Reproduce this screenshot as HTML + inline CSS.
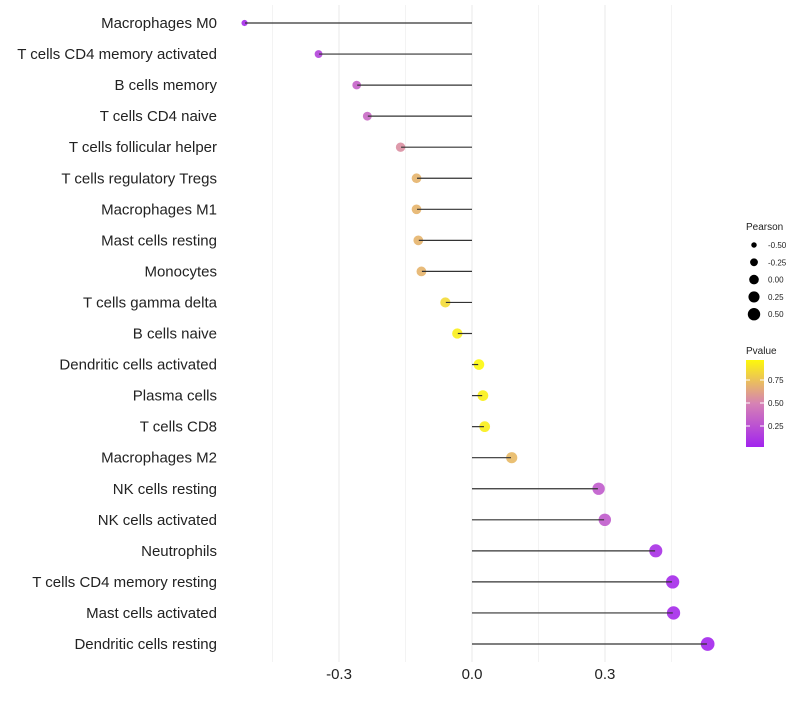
<!DOCTYPE html>
<html><head><meta charset="utf-8"><style>
body{margin:0;background:#fff;font-family:"Liberation Sans",sans-serif}
</style></head><body>
<svg id="c" width="800" height="700" xmlns="http://www.w3.org/2000/svg"></svg>
<script>
const categories=["Macrophages M0","T cells CD4 memory activated","B cells memory","T cells CD4 naive","T cells follicular helper","T cells regulatory  Tregs ","Macrophages M1","Mast cells resting","Monocytes","T cells gamma delta","B cells naive","Dendritic cells activated","Plasma cells","T cells CD8","Macrophages M2","NK cells resting","NK cells activated","Neutrophils","T cells CD4 memory resting","Mast cells activated","Dendritic cells resting"];
const pearson=[-0.512,-0.345,-0.259,-0.235,-0.160,-0.124,-0.124,-0.120,-0.113,-0.059,-0.032,0.014,0.023,0.027,0.088,0.284,0.298,0.413,0.451,0.453,0.530];
const pvalue=[0.05,0.18,0.33,0.37,0.55,0.7,0.7,0.7,0.7,0.85,0.93,0.97,0.94,0.93,0.72,0.3,0.3,0.08,0.05,0.05,0.03];
const xTicks=[-0.3,0,0.3];
const xTickLabels=["-0.3","0.0","0.3"];
const sizeLegend=[-0.5,-0.25,0,0.25,0.5];
const svg=document.getElementById('c');const NS="http://www.w3.org/2000/svg";
function x(v){return 472+v*443.3;}
function y(i){return 23+i*31.05;}
function r(v){return Math.sqrt(Math.max(4,28+36*v));}
function lr(v){return Math.sqrt(Math.max(3.2,23+31*v));}
function lerp(a,b,t){return a.map((c,k)=>Math.round(c+(b[k]-c)*t));}
function col(p){const s=[[160,32,240],[214,130,180],[255,255,0]];let c=p<0.5?lerp(s[0],s[1],p/0.5):lerp(s[1],s[2],(p-0.5)/0.5);return `rgb(${c})`;}
function el(t,a,p){const e=document.createElementNS(NS,t);for(const k in a)e.setAttribute(k,a[k]);(p||svg).appendChild(e);return e;}
[-0.45,-0.15,0.15,0.45,-0.3,0,0.3].forEach(v=>{const g=el('line',{x1:x(v),x2:x(v),y1:5,y2:662,stroke:'#ebebeb','stroke-width':Math.abs(v%0.3)<1e-9?1.1:0.6});

});
xTicks.forEach((v,i)=>{const t=el('text',{x:x(v),y:679,'text-anchor':'middle','font-size':15,fill:'#222'});t.textContent=xTickLabels[i];

});
categories.forEach((c,i)=>{
const t=el('text',{x:217,y:y(i)+5,'text-anchor':'end','font-size':15,fill:'#222'});t.textContent=c;


const d=el('circle',{cx:x(pearson[i])+(pearson[i]>0?0.7:-0.5),cy:y(i),r:r(pearson[i]),fill:col(pvalue[i]),'fill-opacity':0.9});


const l=el('line',{x1:x(0),x2:x(pearson[i]),y1:y(i),y2:y(i),stroke:'#333','stroke-width':1.2});


});
let t=el('text',{x:746,y:230,'font-size':10,fill:'#222'});t.textContent='Pearson';


sizeLegend.forEach((v,i)=>{const cy=245+i*17.3;const c=el('circle',{cx:754,cy:cy,r:lr(v),fill:'#000'});


const l=el('text',{x:768,y:cy+3,'font-size':8,fill:'#222'});l.textContent=v.toFixed(2);

});
t=el('text',{x:746,y:354,'font-size':10,fill:'#222'});t.textContent='Pvalue';


const defs=el('defs',{});const g=el('linearGradient',{id:'gr',x1:0,y1:1,x2:0,y2:0},defs);
[[0,0.02],[0.5,0.5],[1,0.97]].forEach(s=>el('stop',{offset:s[0],'stop-color':col(s[1])},g));
const bar=el('rect',{x:746,y:360,width:18,height:87,fill:'url(#gr)'});


[[0.75,380],[0.5,403],[0.25,426]].forEach(a=>{el('line',{x1:746,x2:750,y1:a[1],y2:a[1],stroke:'#fff'});el('line',{x1:760,x2:764,y1:a[1],y2:a[1],stroke:'#fff'});
const l=el('text',{x:768,y:a[1]+3,'font-size':8,fill:'#222'});l.textContent=a[0].toFixed(2);

});
</script>
</body></html>
